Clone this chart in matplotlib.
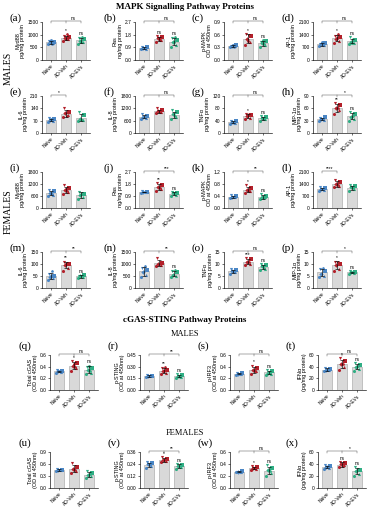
import numpy as np
import matplotlib.pyplot as plt

groups = ['Naive', 'AD-Veh', 'AD-EVs']

# --- MAPK, males ---
myd88_m = [[620, 680, 700, 720, 760, 640, 780],
           [760, 820, 880, 900, 950, 1020, 830],
           [620, 700, 760, 820, 880, 900, 720]]
ras_m = [[0.75, 0.80, 0.85, 0.90, 0.95, 0.82, 0.88],
         [1.30, 1.45, 1.55, 1.60, 1.70, 1.40, 1.50],
         [0.90, 1.10, 1.25, 1.40, 1.55, 1.60, 1.30]]
pmapk_m = [[0.30, 0.32, 0.33, 0.35, 0.34, 0.31, 0.36],
           [0.35, 0.42, 0.50, 0.58, 0.62, 0.60, 0.45],
           [0.30, 0.35, 0.40, 0.45, 0.42, 0.38, 0.48]]
ap1_m = [[750, 820, 880, 950, 900, 850, 1000],
         [950, 1050, 1150, 1250, 1350, 1450, 1200],
         [900, 950, 1000, 1100, 1250, 1150, 950]]
il6_m = [[65, 70, 75, 80, 85, 72, 78],
         [90, 100, 115, 120, 140, 95],
         [70, 75, 80, 100, 120, 72]]
il8_m = [[700, 750, 800, 850, 900, 780],
         [950, 1000, 1050, 1100, 1200, 1000],
         [700, 800, 900, 1000, 1100, 850]]
tnf_m = [[30, 33, 35, 38, 40, 32],
         [45, 50, 55, 58, 62, 60],
         [40, 45, 48, 52, 55, 45]]
mip_m = [[30, 32, 35, 38, 36, 33],
         [45, 55, 60, 68, 72, 62],
         [30, 35, 40, 45, 50, 42]]

# --- MAPK, females ---
myd88_f = [[600, 650, 750, 850, 900, 700],
           [700, 800, 900, 1000, 1150, 850, 950],
           [450, 550, 650, 700, 800, 750]]
ras_f = [[1.15, 1.18, 1.20, 1.22, 1.25, 1.20],
         [1.30, 1.45, 1.60, 1.75, 1.90, 1.50],
         [0.90, 1.00, 1.10, 1.15, 1.20, 1.05]]
pmapk_f = [[0.33, 0.36, 0.38, 0.40, 0.42, 0.37],
           [0.50, 0.55, 0.60, 0.65, 0.75, 0.58],
           [0.30, 0.35, 0.38, 0.40, 0.45, 0.32]]
ap1_f = [[1000, 1050, 1100, 1150, 1200, 1080],
         [1200, 1300, 1400, 1500, 1650, 1350],
         [1000, 1100, 1200, 1300, 1350, 1150]]
il6_f = [[35, 40, 45, 50, 60, 70, 48],
         [70, 85, 95, 100, 110, 105, 100],
         [40, 45, 50, 55, 52, 48]]
il8_f = [[450, 550, 650, 750, 850, 900],
         [900, 950, 1000, 1050, 1250, 1000],
         [450, 500, 550, 650, 700, 750]]
tnf_f = [[6.0, 6.5, 7.0, 7.5, 8.0, 6.8],
         [9.5, 10.0, 11.0, 12.0, 12.5, 11.0],
         [7.5, 8.0, 9.0, 9.5, 10.0, 8.5]]
mip_f = [[4.5, 5.0, 6.0, 7.0, 8.0, 8.5],
         [7.0, 8.0, 9.5, 10.0, 11.0, 11.0],
         [6.0, 6.3, 6.5, 6.8, 7.0, 6.5]]

# --- cGAS-STING, males ---
cgas_m = [[0.30, 0.31, 0.32, 0.33, 0.34, 0.32],
          [0.33, 0.37, 0.42, 0.46, 0.50, 0.40, 0.45],
          [0.27, 0.30, 0.35, 0.38, 0.40, 0.33, 0.42]]
sting_m = [[0.17, 0.175, 0.18, 0.185, 0.19, 0.18],
           [0.20, 0.22, 0.24, 0.26, 0.28, 0.30, 0.25],
           [0.16, 0.17, 0.18, 0.19, 0.21, 0.17]]
irf3_m = [[0.26, 0.27, 0.28, 0.29, 0.30, 0.28],
          [0.28, 0.32, 0.35, 0.38, 0.42, 0.33],
          [0.26, 0.28, 0.30, 0.32, 0.35, 0.29, 0.31]]
ifn_m = [[32, 34, 35, 36, 38, 35],
         [35, 40, 45, 50, 55, 45],
         [33, 36, 40, 43, 46, 42]]

# --- cGAS-STING, females ---
cgas_f = [[0.43, 0.44, 0.45, 0.46, 0.47, 0.45],
          [0.38, 0.42, 0.48, 0.52, 0.62, 0.45],
          [0.25, 0.30, 0.33, 0.37, 0.42, 0.35]]
sting_f = [[0.20, 0.22, 0.24, 0.25, 0.26, 0.23],
           [0.26, 0.27, 0.28, 0.29, 0.31, 0.28],
           [0.19, 0.21, 0.22, 0.23, 0.24, 0.22]]
irf3_f = [[0.26, 0.27, 0.27, 0.28, 0.27, 0.26],
          [0.30, 0.32, 0.34, 0.35, 0.36, 0.34],
          [0.20, 0.25, 0.30, 0.33, 0.38, 0.28]]
ifn_f = [[32, 34, 35, 36, 38, 37],
         [35, 38, 40, 42, 44, 36],
         [20, 24, 28, 30, 35, 32]]

# panel: label, data, ylabel, ticks, per-bar stars, bracket (x1, x2, text)
panels = [
    ('(a)', myd88_m, 'Myd88\npg/mg protein', [0, 500, 1000, 1500], ['', '*', 'ns'], (0, 2, 'ns')),
    ('(b)', ras_m, 'Ras\nng/mg protein', [0.0, 0.9, 1.8, 2.7], ['', 'ns', 'ns'], (0, 2, 'ns')),
    ('(c)', pmapk_m, 'p-MAPK\nOD at 450nm', [0.0, 0.3, 0.6, 0.9], ['', '*', 'ns'], (0, 2, 'ns')),
    ('(d)', ap1_m, 'AP-1\npg/mg protein', [0, 700, 1400, 2100], ['', '*', 'ns'], (0, 2, 'ns')),
    ('(e)', il6_m, 'IL-6\npg/mg protein', [0, 70, 140, 210], ['', '', ''], (0, 1, '*')),
    ('(f)', il8_m, 'IL-8\npg/mg protein', [0, 600, 1200, 1800], ['', '', ''], (0, 2, 'ns')),
    ('(g)', tnf_m, 'TNFα\npg/mg protein', [0, 40, 80, 120], ['', '*', 'ns'], (0, 2, 'ns')),
    ('(h)', mip_m, 'MIP-1α\npg/mg protein', [0, 30, 60, 90], ['', '**', 'ns'], (0, 2, '*')),
    ('(i)', myd88_f, 'Myd88\npg/mg protein', [0, 600, 1200, 1800], ['', '', ''], None),
    ('(j)', ras_f, 'Ras\nng/mg protein', [0.0, 0.9, 1.8, 2.7], ['', '**', 'ns'], (0, 2, '***')),
    ('(k)', pmapk_f, 'p-MAPK\nOD at 450nm', [0.0, 0.4, 0.8, 1.2], ['', '*', 'ns'], (0, 2, '**')),
    ('(l)', ap1_f, 'AP-1\npg/mg protein', [0, 700, 1400, 2100], ['', '', ''], (0, 1, '****')),
    ('(m)', il6_f, 'IL-6\npg/mg protein', [0, 50, 100, 150], ['', '**', 'ns'], (0, 2, '**')),
    ('(n)', il8_f, 'IL-8\npg/mg protein', [0, 500, 1000, 1500], ['', '', 'ns'], (0, 2, '**')),
    ('(o)', tnf_f, 'TNFα\npg/mg protein', [0, 5, 10, 15], ['', '***', 'ns'], (0, 2, 'ns')),
    ('(p)', mip_f, 'MIP-1α\npg/mg protein', [0, 5, 10, 15], ['', '*', 'ns'], (0, 2, '*')),
    ('(q)', cgas_m, 'Total cGAS\n(OD at 450nm)', [0.0, 0.2, 0.4, 0.6], ['', '*', 'ns'], (0, 2, 'ns')),
    ('(r)', sting_m, 'p-STING\n(OD at 450nm)', [0.00, 0.15, 0.30, 0.45], ['', '**', 'ns'], (0, 2, '**')),
    ('(s)', irf3_m, 'p-IRF3\n(OD at 450nm)', [0.0, 0.2, 0.4, 0.6], ['', '*', 'ns'], (0, 2, 'ns')),
    ('(t)', ifn_m, 'IFNα\n(pg/mg protein)', [0, 20, 40, 60], ['', '*', 'ns'], (0, 2, 'ns')),
    ('(u)', cgas_f, 'Total cGAS\n(OD at 450nm)', [0.0, 0.3, 0.6, 0.9], ['', '', ''], None),
    ('(v)', sting_f, 'p-STING\n(OD at 450nm)', [0.00, 0.12, 0.24, 0.36], ['', '*', 'ns'], (0, 2, '**')),
    ('(w)', irf3_f, 'p-IRF3\n(OD at 450nm)', [0.0, 0.2, 0.4, 0.6], ['', '*', 'ns'], (0, 2, 'ns')),
    ('(x)', ifn_f, 'IFNα\n(pg/mg protein)', [0, 20, 40, 60], ['', 'ns', 'ns'], (0, 2, '*')),
]

colors = ['#4a86c5', '#b3202a', '#2fae84']
markers = ['o', '^', 'D', 's', 'v', 'p', 'h']
jitter = [-0.2, 0.15, -0.05, 0.2, -0.15, 0.05, 0.0]

W, H = 367, 511
fig = plt.figure(figsize=(W / 100, H / 100), dpi=100)

def box(l, t, w, h):
    return [l / W, 1 - (t + h) / H, w / W, h / H]

rows = [(22, 38), (96, 37), (172, 36), (252, 36), (355, 35), (452, 36)]
cols_top = [42, 135, 224, 313]
cols_bot = [50, 140, 230, 318]

serif = 'Liberation Serif'
sans = 'Liberation Sans'

for i, (lab, data, ylab, ticks, stars, bracket) in enumerate(panels):
    r, c = divmod(i, 4)
    top, h = rows[r]
    left = cols_top[c] if r < 4 else cols_bot[c]
    ax = fig.add_axes(box(left, top, 48, h))
    ymax = ticks[-1]

    means = [np.mean(d) for d in data]
    sds = [np.std(d, ddof=1) for d in data]
    ax.bar(range(3), means, width=0.72, color='#d9d9d9', edgecolor='#a0a0a0', linewidth=0.4, zorder=1)
    for g, d in enumerate(data):
        for k, v in enumerate(d):
            ax.scatter(g + jitter[k], v, s=5, marker=markers[k], color=colors[g],
                       linewidths=0, zorder=3)
        ax.errorbar(g, means[g], yerr=sds[g], color='black', capsize=1.2,
                    elinewidth=0.45, capthick=0.45, zorder=4)
        if stars[g]:
            ax.text(g, max(d) + 0.03 * ymax, stars[g], ha='center', va='bottom',
                    fontsize=3.4, family=sans, clip_on=False)

    if bracket:
        x1, x2, txt = bracket
        yb = ymax * 1.02
        ax.plot([x1, x1, x2, x2], [yb - 0.04 * ymax, yb, yb, yb - 0.04 * ymax],
                color='#555555', lw=0.35, clip_on=False)
        if x2 == 2:
            ax.plot([1, 1], [yb - 0.04 * ymax, yb], color='#555555', lw=0.35, clip_on=False)
            xt = 1.5
        else:
            xt = (x1 + x2) / 2
        ax.text(xt, yb + 0.01 * ymax, txt, ha='center', va='bottom', fontsize=3.4,
                family=sans, clip_on=False)

    ax.set_ylim(0, ymax)
    ax.set_xlim(-0.6, 2.6)
    ax.set_yticks(ticks)
    ax.set_yticklabels([f'{t:g}' if isinstance(t, int) else
                        (f'{t:.2f}' if ymax < 0.5 else f'{t:.1f}') for t in ticks])
    ax.set_xticks(range(3))
    ax.set_xticklabels(groups, rotation=45, ha='right', rotation_mode='anchor')
    for s in ['top', 'right']:
        ax.spines[s].set_visible(False)
    for s in ['left', 'bottom']:
        ax.spines[s].set_linewidth(0.45)
    ax.tick_params(length=1.5, width=0.4, labelsize=3.5, pad=1)
    for t in ax.get_xticklabels() + ax.get_yticklabels():
        t.set_family(sans)
    ax.set_ylabel(ylab, fontsize=4, family=sans, labelpad=1.5, linespacing=0.95)
    lift = 4 if r < 4 else 9
    ax.text(-32 / 48, 1 + lift / h, lab, transform=ax.transAxes, fontsize=8, family=serif,
            ha='left', va='center')

# titles and group labels
fig.text(185 / W, 1 - 7 / H, 'MAPK Signalling Pathway Proteins', ha='center', va='center',
         fontsize=6.5, fontweight='bold', family=serif)
fig.text(185 / W, 1 - 320 / H, 'cGAS-STING Pathway Proteins', ha='center', va='center',
         fontsize=6.5, fontweight='bold', family=serif)
fig.text(8 / W, 1 - 68 / H, 'MALES', rotation=90, ha='center', va='center',
         fontsize=7, family=serif)
fig.text(8 / W, 1 - 212 / H, 'FEMALES', rotation=90, ha='center', va='center',
         fontsize=7, family=serif)
fig.text(185 / W, 1 - 334 / H, 'MALES', ha='center', va='center', fontsize=6, family=serif)
fig.text(185 / W, 1 - 433 / H, 'FEMALES', ha='center', va='center', fontsize=6, family=serif)

fig.savefig('out.png', dpi=100)
